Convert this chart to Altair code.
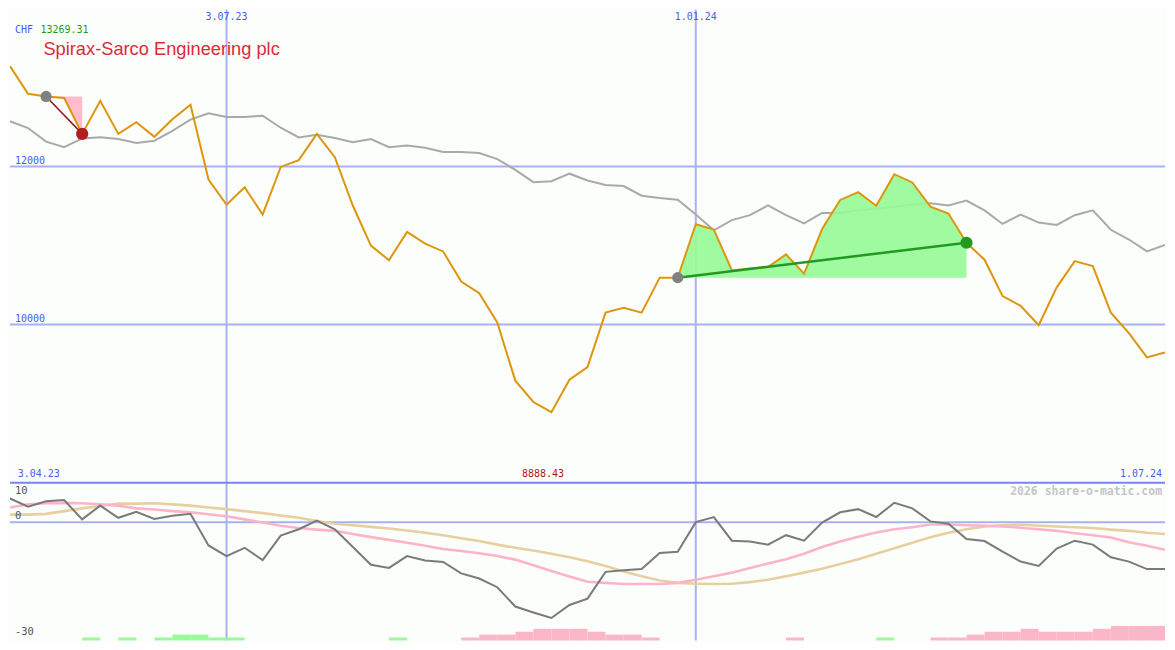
import altair as alt
import pandas as pd

# ---------------- data ----------------
START = "2023-04-10"
N_WEEKS = 65
dates = pd.date_range(START, periods=N_WEEKS, freq="7D").strftime("%Y-%m-%d").tolist()

price = [13269.31, 12920, 12886, 12867, 12412, 12830, 12412, 12560, 12375, 12597,
         12781, 11834, 11514, 11736, 11391, 11994, 12080, 12412, 12117, 11502,
         10998, 10813, 11170, 11022, 10924, 10542, 10395, 10026, 9288, 9018,
         8888.43, 9300, 9460, 10149, 10210, 10149, 10592, 10592, 11268, 11201,
         10684, 10709, 10727, 10887, 10641, 11207, 11576, 11674, 11502, 11902,
         11797, 11490, 11404, 11034, 10819, 10358, 10235, 9989, 10469, 10801,
         10739, 10149, 9891, 9583, 9645]

avg = [12572, 12486, 12314, 12244, 12354, 12369, 12347, 12298, 12326, 12449,
       12593, 12674, 12625, 12625, 12642, 12490, 12367, 12400, 12359, 12305,
       12347, 12244, 12264, 12236, 12182, 12182, 12170, 12092, 11957, 11801,
       11813, 11908, 11822, 11764, 11752, 11629, 11600, 11579, 11391, 11191,
       11321, 11383, 11506, 11383, 11280, 11412, 11412, 11444, 11465, 11490,
       11518, 11535, 11506, 11567, 11444, 11272, 11391, 11289, 11260, 11383,
       11444, 11198, 11075, 10924, 11006]

macd = [6.0, 3.9, 5.3, 5.6, 0.7, 4.2, 1.1, 2.6, 0.8, 1.6,
        2.1, -5.9, -8.6, -6.5, -9.6, -3.4, -1.8, 0.4, -1.8, -6.3,
        -10.8, -11.6, -8.6, -9.7, -10.1, -13.0, -14.3, -16.5, -21.4, -22.9,
        -24.3, -21.0, -19.4, -12.6, -12.2, -11.9, -7.8, -7.5, 0.0, 1.3,
        -4.7, -4.9, -5.7, -3.3, -4.7, -0.1, 2.5, 3.3, 1.3, 4.9,
        3.5, 0.2, -0.4, -4.3, -4.8, -7.5, -10.0, -11.1, -6.7, -4.7,
        -5.7, -8.9, -10.0, -11.9, -11.9]

sig_fast = [3.7, 4.5, 4.8, 4.9, 4.8, 4.5, 4.2, 3.5, 3.2, 2.8,
            2.5, 2.0, 1.5, 0.7, -0.1, -0.9, -1.5, -1.9, -2.2, -3.0,
            -3.8, -4.5, -5.2, -6.0, -6.8, -7.3, -7.9, -8.6, -9.5, -10.9,
            -12.4, -13.8, -15.1, -15.4, -15.7, -15.7, -15.7, -15.4, -14.6, -13.7,
            -12.8, -11.6, -10.5, -9.4, -8.0, -6.3, -4.9, -3.7, -2.6, -1.8,
            -1.3, -0.6, -0.6, -0.8, -0.9, -1.1, -1.4, -1.8, -2.2, -2.8,
            -3.3, -3.9, -5.1, -6.0, -7.0]

sig_slow = [1.9, 1.9, 2.1, 2.8, 3.5, 4.1, 4.7, 4.7, 4.8, 4.5,
            4.2, 3.7, 3.3, 2.8, 2.3, 1.7, 1.1, 0.3, -0.4, -0.8,
            -1.2, -1.6, -2.1, -2.7, -3.3, -4.1, -4.8, -5.7, -6.5, -7.2,
            -8.0, -8.9, -9.9, -11.1, -12.5, -13.7, -14.8, -15.4, -15.6, -15.7,
            -15.6, -15.2, -14.6, -13.7, -12.8, -11.8, -10.6, -9.4, -8.0, -6.6,
            -5.2, -3.8, -2.7, -1.8, -1.1, -0.8, -0.6, -0.9, -1.1, -1.3,
            -1.5, -1.9, -2.2, -2.7, -3.0]

# histogram level per weekly interval (sign: + green, - pink)
hist = [0, 0, 0, 0, 1, 0, 1, 0, 1, 2,
        2, 1, 1, 0, 0, 0, 0, 0, 0, 0,
        0, 1, 0, 0, 0, -1, -2, -2, -3, -4,
        -4, -4, -3, -2, -2, -1, 0, 0, 0, 0,
        0, 0, 0, -1, 0, 0, 0, 0, 1, 0,
        0, -1, -1, -2, -3, -3, -4, -3, -3, -3,
        -4, -5, -5, -5]

currency = "CHF"
company = "Spirax-Sarco Engineering plc"
price_grid = [10000, 12000]
vline_dates = ["2023-07-03", "2024-01-01"]
vline_labels = ["3.07.23", "1.01.24"]
edge_labels = ["3.04.23", "1.07.24"]
watermark = "2026 share-o-matic.com"

sig_start = [2, 37]
sig_end = [4, 53]

# ---------------- style ----------------
W, H1, H2 = 1157, 474, 158
SX = W / 1175
SY = (H1 + H2) / 650
BG = "#fcfefc"
GRID = "#a6b2f2"
SEP = "#7886ee"
BLUE = "#4a5cf0"
MONO = "DejaVu Sans Mono"
FILL_COLORS = ["#ffb6c8", "#98fb98"]
LINE_COLORS = ["#9a1c1c", "#229922"]
LINE_WIDTHS = [1.6, 2.5]
DOT_COLORS = ["#b02020", "#229922"]


def ms(d):
    return int(pd.Timestamp(d).value // 10**6)


xs = alt.Scale(type="utc", domain=[ms(dates[0]), ms(dates[-1])])
ys_top = alt.Scale(domain=[7996, 13986], nice=False, zero=False)
ys_bot = alt.Scale(domain=[-30, 10], nice=False, zero=False)
ys_hist = alt.Scale(domain=[0, 54.3], nice=False, zero=False)

X = alt.X("date:T", scale=xs, axis=None)
YP = alt.Y("price:Q", scale=ys_top, axis=None)

df = pd.DataFrame({"date": dates, "price": price, "avg": avg,
                   "macd": macd, "fast": sig_fast, "slow": sig_slow})

# ---------------- top panel ----------------
grid_df = pd.DataFrame({"v": price_grid, "label": [str(v) for v in price_grid]})
grid = alt.Chart(grid_df).mark_rule(color=GRID, strokeWidth=2).encode(
    y=alt.Y("v:Q", scale=ys_top, axis=None))
grid_txt = alt.Chart(grid_df).mark_text(
    align="left", baseline="middle", dy=-5.5, font=MONO, fontSize=10, color=BLUE
).encode(x=alt.value(5 * SX), y=alt.Y("v:Q", scale=ys_top, axis=None), text="label:N")

vl_df = pd.DataFrame({"date": vline_dates, "label": vline_labels})
vrule = alt.Chart(vl_df).mark_rule(color=GRID, strokeWidth=2).encode(x=X)
vtxt = alt.Chart(vl_df).mark_text(
    baseline="middle", font=MONO, fontSize=10, color=BLUE
).encode(x=X, y=alt.value(8 * SY), text="label:N")

avg_line = alt.Chart(df).mark_line(color="#a9a9a9", strokeWidth=2, clip=True).encode(
    x=X, y=alt.Y("avg:Q", scale=ys_top, axis=None))

price_line = alt.Chart(df).mark_line(color="#dd960c", strokeWidth=2, clip=True).encode(x=X, y=YP)

areas, seg_lines, start_dots, end_dots = [], [], [], []
for k, (s, e) in enumerate(zip(sig_start, sig_end)):
    a_df = pd.DataFrame({"date": dates[s:e + 1], "price": price[s:e + 1],
                         "base": [price[s]] * (e - s + 1)})
    areas.append(alt.Chart(a_df).mark_area(opacity=0.92, color=FILL_COLORS[k]).encode(
        x=X, y=alt.Y("price:Q", scale=ys_top, axis=None, stack=None), y2="base:Q"))
    s_df = pd.DataFrame({"date": [dates[s], dates[e]], "price": [price[s], price[e]]})
    seg_lines.append(alt.Chart(s_df).mark_line(color=LINE_COLORS[k], strokeWidth=LINE_WIDTHS[k]).encode(
        x=X, y=YP))
    start_dots.append(alt.Chart(s_df.iloc[[0]]).mark_circle(size=125, opacity=1, color="#808080").encode(
        x=X, y=YP))
    end_dots.append(alt.Chart(s_df.iloc[[1]]).mark_circle(size=150, opacity=1, color=DOT_COLORS[k]).encode(
        x=X, y=YP))

one = pd.DataFrame({"a": [0]})
cur_txt = alt.Chart(one).mark_text(
    align="left", baseline="middle", font=MONO, fontSize=10, color=BLUE, text=currency
).encode(x=alt.value(5 * SX), y=alt.value(21 * SY))
max_txt = alt.Chart(one).mark_text(
    align="left", baseline="middle", font=MONO, fontSize=10, color="#1e9a1e",
    text=f"{max(price):.2f}"
).encode(x=alt.value(31 * SX), y=alt.value(21 * SY))
title_txt = alt.Chart(one).mark_text(
    align="left", baseline="middle", font="Liberation Sans", fontSize=18.3, color="#dd2a3a",
    text=company
).encode(x=alt.value(34 * SX), y=alt.value(42 * SY))

edge_df = pd.DataFrame({"date": [dates[0], dates[-1]], "label": edge_labels, "v": [7996, 7996]})
left_txt = alt.Chart(edge_df.iloc[[0]]).mark_text(
    align="left", baseline="middle", dx=8 * SX, dy=-8.3, font=MONO, fontSize=10, color=BLUE
).encode(x=X, y=alt.Y("v:Q", scale=ys_top, axis=None), text="label:N")
right_txt = alt.Chart(edge_df.iloc[[1]]).mark_text(
    align="right", baseline="middle", dx=-3 * SX, dy=-8.3, font=MONO, fontSize=10, color=BLUE
).encode(x=X, y=alt.Y("v:Q", scale=ys_top, axis=None), text="label:N")
imin = price.index(min(price))
min_df = pd.DataFrame({"date": [dates[imin]], "label": [f"{min(price):.2f}"], "v": [7996]})
min_txt = alt.Chart(min_df).mark_text(
    align="center", baseline="middle", dx=-8.5 * SX, dy=-8.3, font=MONO, fontSize=10, color="#a81818"
).encode(x=X, y=alt.Y("v:Q", scale=ys_top, axis=None), text="label:N")

top = alt.layer(
    grid, vrule, grid_txt, vtxt, avg_line, *areas, price_line, *seg_lines,
    *start_dots, *end_dots, cur_txt, max_txt, title_txt, left_txt, right_txt, min_txt
).properties(width=W, height=H1)

# ---------------- bottom panel ----------------
zero_rule = alt.Chart(pd.DataFrame({"v": [0]})).mark_rule(color=GRID, strokeWidth=2).encode(
    y=alt.Y("v:Q", scale=ys_bot, axis=None))
sep_rule = alt.Chart(pd.DataFrame({"v": [10]})).mark_rule(color=SEP, strokeWidth=2.2).encode(
    y=alt.Y("v:Q", scale=ys_bot, axis=None))
vrule_b = alt.Chart(vl_df).mark_rule(color=GRID, strokeWidth=2).encode(x=X)

h_up = [{"date": dates[i], "date2": dates[i + 1], "lvl": h} for i, h in enumerate(hist) if h > 0]
h_dn = [{"date": dates[i], "date2": dates[i + 1], "lvl": -h} for i, h in enumerate(hist) if h < 0]
bars_up = alt.Chart(pd.DataFrame(h_up)).mark_rect(color="#98fb98").encode(
    x=X, x2="date2:T", y=alt.Y("lvl:Q", scale=ys_hist, axis=None), y2=alt.datum(0))
bars_dn = alt.Chart(pd.DataFrame(h_dn)).mark_rect(color="#fbb6c8").encode(
    x=X, x2="date2:T", y=alt.Y("lvl:Q", scale=ys_hist, axis=None), y2=alt.datum(0))

slow_line = alt.Chart(df).mark_line(color="#e8cfa0", strokeWidth=2.6, clip=True).encode(
    x=X, y=alt.Y("slow:Q", scale=ys_bot, axis=None))
fast_line = alt.Chart(df).mark_line(color="#fdb4c8", strokeWidth=2.6, clip=True).encode(
    x=X, y=alt.Y("fast:Q", scale=ys_bot, axis=None))
macd_line = alt.Chart(df).mark_line(color="#7a7a7a", strokeWidth=2, clip=True).encode(
    x=X, y=alt.Y("macd:Q", scale=ys_bot, axis=None))


def level_label(v, txt, dy):
    return alt.Chart(pd.DataFrame({"v": [v], "t": [txt]})).mark_text(
        align="left", baseline="middle", dy=dy, font=MONO, fontSize=10.5, color="#555555"
    ).encode(x=alt.value(5 * SX), y=alt.Y("v:Q", scale=ys_bot, axis=None), text="t:N")


lab10 = level_label(10, "10", 8.5)
lab0 = level_label(0, "0", -5.8)
lab30 = level_label(-30, "-30", -8)

wm = alt.Chart(pd.DataFrame({"v": [10], "t": [watermark]})).mark_text(
    align="right", baseline="middle", dy=9, font=MONO, fontSize=11.5, fontWeight="bold", color="#c6c6c6"
).encode(x=alt.value(1172 * SX), y=alt.Y("v:Q", scale=ys_bot, axis=None), text="t:N")

bottom = alt.layer(
    zero_rule, vrule_b, bars_up, bars_dn, slow_line, fast_line, macd_line, sep_rule,
    lab10, lab0, lab30, wm
).resolve_scale(y="independent").properties(width=W, height=H2)

chart = alt.vconcat(top, bottom, spacing=0, bounds="flush").properties(
    padding=0, background=BG
).configure_view(stroke=None)

chart.save("out.html", embed_options={"renderer": "svg", "actions": False})
